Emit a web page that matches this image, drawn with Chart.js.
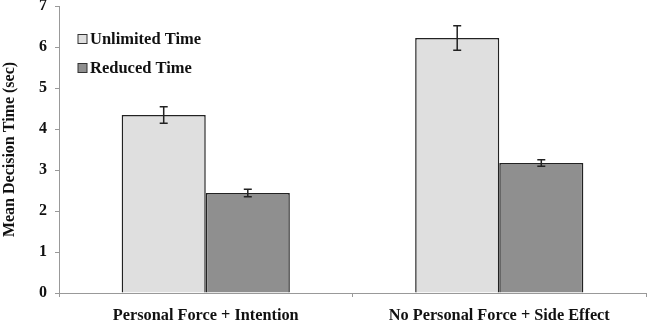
<!DOCTYPE html>
<html>
<head>
<meta charset="utf-8">
<script src="https://cdn.jsdelivr.net/npm/chart.js@4/dist/chart.umd.min.js"></script>
<style>
  html, body { margin: 0; padding: 0; background: #fff; }
  #wrap { width: 650px; height: 322px; }
</style>
</head>
<body>
<div id="wrap"><canvas id="decision-chart"></canvas></div>
<script>
const categories = ["Personal Force + Intention", "No Personal Force + Side Effect"];
const unlimitedTime = [4.34, 6.22];
const unlimitedErr = [0.2, 0.3];
const reducedTime = [2.44, 3.17];
const reducedErr = [0.09, 0.08];
const yTicks = [0, 1, 2, 3, 4, 5, 6, 7];

const serif = "'Liberation Serif', 'Times New Roman', serif";

// error bars drawn on top of each bar through the y scale
const errorBars = {
    id: 'errorBars',
    afterDatasetsDraw(chart) {
        const ctx = chart.ctx;
        const yScale = chart.scales.y;
        chart.data.datasets.forEach((ds, i) => {
            const meta = chart.getDatasetMeta(i);
            meta.data.forEach((bar, j) => {
                const v = ds.data[j];
                const e = ds.errors[j];
                const yHi = yScale.getPixelForValue(v + e);
                const yLo = yScale.getPixelForValue(v - e);
                ctx.save();
                ctx.strokeStyle = '#222';
                ctx.lineWidth = 1.5;
                ctx.beginPath();
                ctx.moveTo(bar.x, yHi);
                ctx.lineTo(bar.x, yLo);
                ctx.moveTo(bar.x - 4, yHi);
                ctx.lineTo(bar.x + 4, yHi);
                ctx.moveTo(bar.x - 4, yLo);
                ctx.lineTo(bar.x + 4, yLo);
                ctx.stroke();
                ctx.restore();
            });
        });
    }
};

// legend inside the plot, top left
const insideLegend = {
    id: 'insideLegend',
    afterDraw(chart) {
        const ctx = chart.ctx;
        const left = chart.chartArea.left + 19;
        const rows = [39, 68];
        chart.data.datasets.forEach((ds, i) => {
            const y = rows[i];
            ctx.save();
            ctx.fillStyle = ds.backgroundColor;
            ctx.strokeStyle = '#333';
            ctx.lineWidth = 1;
            ctx.fillRect(left, y - 4.5, 9, 9);
            ctx.strokeRect(left, y - 4.5, 9, 9);
            ctx.fillStyle = '#111';
            ctx.font = "bold 16.5px " + serif;
            ctx.textBaseline = 'middle';
            ctx.fillText(ds.label, left + 12, y + 1);
            ctx.restore();
        });
    }
};

const canvas = document.querySelector('#decision-chart');
new Chart(canvas.getContext('2d'), {
    type: 'bar',
    data: {
        labels: categories,
        datasets: [
            {
                label: 'Unlimited Time',
                data: unlimitedTime,
                errors: unlimitedErr,
                backgroundColor: '#dfdfdf',
                borderColor: '#222',
                borderWidth: 1.5,
                categoryPercentage: 0.573,
                barPercentage: 1.0
            },
            {
                label: 'Reduced Time',
                data: reducedTime,
                errors: reducedErr,
                backgroundColor: '#8f8f8f',
                borderColor: '#222',
                borderWidth: 1.5,
                categoryPercentage: 0.573,
                barPercentage: 1.0
            }
        ]
    },
    options: {
        responsive: true,
        maintainAspectRatio: false,
        animation: false,
        layout: { padding: { top: 0, right: 4, bottom: 0, left: 0 } },
        plugins: {
            legend: { display: false },
            tooltip: { enabled: false }
        },
        scales: {
            x: {
                afterFit: scale => { scale.height = 29; },
                grid: {
                    display: true,
                    drawOnChartArea: false,
                    offset: true,
                    color: '#999',
                    tickLength: 4
                },
                border: { color: '#999', width: 1 },
                ticks: {
                    color: '#111',
                    padding: 9,
                    font: { family: serif, size: 16.3, weight: 'bold' }
                }
            },
            y: {
                min: 0,
                max: 7,
                afterBuildTicks: scale => {
                    scale.ticks = yTicks.map(v => ({ value: v }));
                },
                afterFit: scale => {
                    scale.width = 59;
                    scale.paddingTop = 6;
                    scale.paddingBottom = 0;
                },
                grid: {
                    drawOnChartArea: false,
                    color: '#999',
                    tickLength: 4
                },
                border: { color: '#999', width: 1 },
                ticks: {
                    color: '#111',
                    padding: 8,
                    font: { family: serif, size: 16, weight: 'bold' }
                },
                title: {
                    display: true,
                    text: 'Mean Decision Time (sec)',
                    color: '#111',
                    padding: 0,
                    font: { family: serif, size: 16, weight: 'bold' }
                }
            }
        }
    },
    plugins: [errorBars, insideLegend]
});
</script>
</body>
</html>
